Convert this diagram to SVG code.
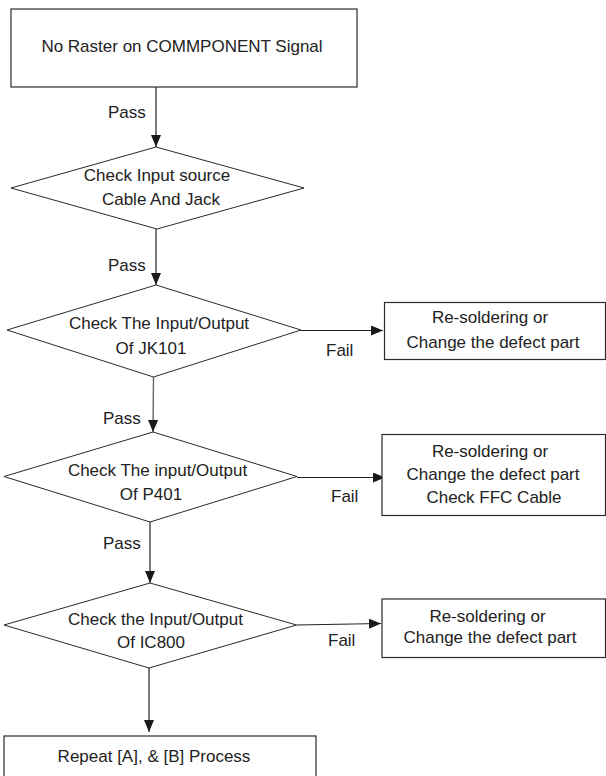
<svg xmlns="http://www.w3.org/2000/svg" width="606" height="776" viewBox="0 0 606 776">
<style>
.box{fill:#fff;stroke:#2a2a2a;stroke-width:1.2}
.dia{fill:#fff;stroke:#2a2a2a;stroke-width:1}
.t{font-family:"Liberation Sans",Arial,sans-serif;font-size:17px;fill:#222;text-anchor:middle}
.l{font-family:"Liberation Sans",Arial,sans-serif;font-size:17px;fill:#222}
.c{stroke:#222;stroke-width:1.2;fill:none}
.g{stroke:#666;stroke-width:1.4;fill:none}
</style>
<defs>
<marker id="ah" markerUnits="userSpaceOnUse" markerWidth="14" markerHeight="12" refX="12" refY="5" orient="auto">
<path d="M0,0 L12,5 L0,10 Z" fill="#1a1a1a"/>
</marker>
</defs>
<rect width="606" height="776" fill="#fff"/>
<g id="connectors">
<line class="c" x1="156" y1="87" x2="156" y2="147" marker-end="url(#ah)"/>
<line class="c" x1="156" y1="229" x2="156" y2="285" marker-end="url(#ah)"/>
<line class="c" x1="301" y1="330.5" x2="383" y2="330.5" marker-end="url(#ah)"/>
<line class="g" x1="153.5" y1="377" x2="153" y2="432" marker-end="url(#ah)"/>
<line class="c" x1="297" y1="477.5" x2="385" y2="477.5" marker-end="url(#ah)"/>
<line class="c" x1="150" y1="522" x2="150" y2="583" marker-end="url(#ah)"/>
<line class="c" x1="296.5" y1="625" x2="381" y2="623.5" marker-end="url(#ah)"/>
<line class="c" x1="149" y1="668" x2="149" y2="732" marker-end="url(#ah)"/>
<text class="l" x="108" y="118">Pass</text>
<text class="l" x="108" y="271">Pass</text>
<text class="l" x="326" y="356">Fail</text>
<text class="l" x="103" y="424">Pass</text>
<text class="l" x="331" y="502">Fail</text>
<text class="l" x="103" y="549">Pass</text>
<text class="l" x="328" y="646">Fail</text>
</g>
<g id="start">
<rect class="box" x="11" y="9" width="346" height="78"/>
<text class="t" x="182" y="52">No Raster on COMMPONENT Signal</text>
</g>
<g id="check-source">
<polygon class="dia" points="156,147 304,188 157,229 11,188"/>
<text class="t" x="157" y="181">Check Input source</text>
<text class="t" x="161" y="205">Cable And Jack</text>
</g>
<g id="check-jk101">
<polygon class="dia" points="156,285 301,330 153.5,377 7,330"/>
<text class="t" x="159" y="329">Check The Input/Output</text>
<text class="t" x="151" y="354">Of JK101</text>
</g>
<g id="fix-jk101">
<rect class="box" x="384.5" y="302.5" width="221" height="57"/>
<text class="t" x="490" y="323">Re-soldering or</text>
<text class="t" x="493" y="348">Change the defect part</text>
</g>
<g id="check-p401">
<polygon class="dia" points="153,432 297,476.5 150,522 4,476.5"/>
<text class="t" x="157.5" y="476">Check The input/Output</text>
<text class="t" x="151" y="500">Of P401</text>
</g>
<g id="fix-p401">
<rect class="box" x="382" y="434.5" width="223.5" height="81"/>
<text class="t" x="490" y="457">Re-soldering or</text>
<text class="t" x="493" y="480">Change the defect part</text>
<text class="t" x="494" y="503">Check FFC Cable</text>
</g>
<g id="check-ic800">
<polygon class="dia" points="150,583 296.5,625 149,668 4,625"/>
<text class="t" x="155.5" y="625">Check the Input/Output</text>
<text class="t" x="151" y="648">Of IC800</text>
</g>
<g id="fix-ic800">
<rect class="box" x="382" y="599" width="223.5" height="58.5"/>
<text class="t" x="487.5" y="622">Re-soldering or</text>
<text class="t" x="490" y="643">Change the defect part</text>
</g>
<g id="repeat">
<rect class="box" x="4" y="736" width="312" height="50"/>
<text class="t" x="154" y="762">Repeat [A], &amp; [B] Process</text>
</g>
</svg>
